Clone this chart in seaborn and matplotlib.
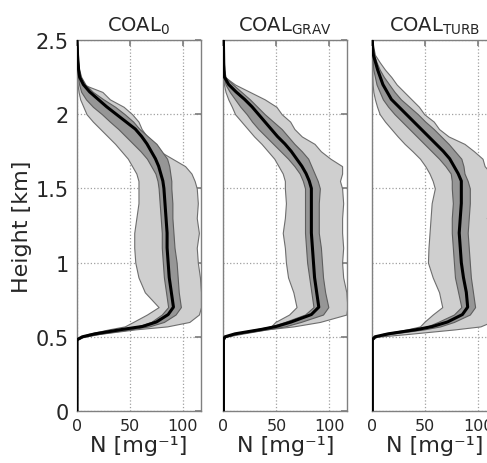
import pandas as pd
import seaborn as sns
import matplotlib.pyplot as plt

# shared height levels [km]
heights = [0.0, 0.48, 0.50, 0.52, 0.55, 0.57, 0.60, 0.65, 0.70, 0.80, 0.90, 1.0,
           1.1, 1.2, 1.3, 1.4, 1.5, 1.55, 1.6, 1.65, 1.7, 1.75, 1.8, 1.85, 1.9,
           1.95, 2.0, 2.05, 2.1, 2.15, 2.2, 2.25, 2.3, 2.35, 2.4, 2.45, 2.5]

panel_titles = ["COAL$_\\mathregular{0}$", "COAL$_\\mathregular{GRAV}$", "COAL$_\\mathregular{TURB}$"]

# COAL_0
mean_0 = [0, 0, 5, 17, 43, 62, 75, 86, 91, 89, 87, 86, 85, 85, 84, 83, 82, 81, 79, 77,
          74, 70, 66, 61, 55, 46, 37, 28, 20, 12, 6, 2.5, 1.5, 1, 0.5, 0.3, 0]
q25_0 = [0, 0, 4, 14, 38, 57, 70, 80, 86, 84, 82, 81, 80, 80, 79, 78, 77, 76, 74, 70,
         66, 60, 53, 46, 39, 31, 23.5, 15, 8.5, 4, 2, 1, 0.5, 0.3, 0, 0, 0]
q75_0 = [0, 0, 6, 21, 50, 68, 82, 93, 98, 96, 95, 94, 92, 91, 90, 90, 89, 89, 88, 87,
         85, 80, 75, 67, 59, 53, 45, 36, 25, 15, 8, 4, 2, 1, 0.5, 0.2, 0]
min_0 = [0, 0, 3, 11, 30, 45, 53, 66, 77, 64, 58, 55, 54, 54, 56, 58, 58, 58, 56, 52,
         48, 42, 36, 29, 22, 15, 9, 6, 3, 1.5, 0.5, 0, 0, 0, 0, 0, 0]
max_0 = [0, 0, 6, 22, 55, 85, 106, 115, 117, 117, 116, 114, 113, 115, 113, 114, 113, 111,
         108, 102, 90, 78, 70, 66, 61, 58, 52, 44, 31, 24, 6, 3, 1.5, 1, 0.5, 0.3, 0]

# COAL_GRAV
mean_g = [0, 0, 1.5, 11, 36, 50, 64, 83, 90, 88, 86, 85, 84, 83, 83, 83, 83, 81, 78, 74,
          69, 64, 58, 51, 45, 39, 33, 27, 20, 12, 5, 1, 0.5, 0.3, 0.2, 0.1, 0]
q25_g = [0, 0, 1, 9, 33, 45, 58, 77, 85, 83, 81, 79, 78, 77, 77, 77, 77, 75, 72, 67,
         61, 54, 47, 40, 33, 27, 22, 16, 11, 6, 2, 0.5, 0, 0, 0, 0, 0]
q75_g = [0, 0, 2, 13, 41, 58, 73, 94, 99, 96, 94, 93, 92, 90, 90, 90, 91, 89, 86, 83,
         80, 74, 67, 61, 55, 47, 39, 32, 25, 17, 9, 2, 0.8, 0.4, 0.2, 0.1, 0]
min_g = [0, 0, 1, 8, 30, 45, 49, 62, 69, 66, 61, 59, 58, 56, 58, 59, 58, 58, 56, 52,
         48, 42, 36, 29, 23, 17, 11, 8, 4.6, 2, 0.5, 0, 0, 0, 0, 0, 0]
max_g = [0, 0, 2, 17, 41, 66, 91, 116, 117, 116, 113, 112, 113, 112, 112, 113, 112, 110,
         112, 112, 101, 92, 86, 74, 67, 63, 55, 50, 39, 25, 11, 1.5, 0.8, 0.4, 0.2, 0.1, 0]

# COAL_TURB
mean_t = [0, 0, 2.5, 15, 43, 57, 71, 85, 90, 88.7, 86, 84, 83, 82, 83, 84, 84, 84, 81, 77,
          73, 67, 60, 53, 46, 39, 32, 25, 18, 14, 10, 7.5, 5, 3, 1, 0.3, 0]
q25_t = [0, 0, 2, 12, 40, 52, 62, 77, 84, 81, 78, 77, 76, 75, 75, 76, 75, 75, 74, 69,
         63, 56, 49, 42, 35, 28, 21, 15, 10, 7, 4, 2.5, 1, 0.5, 0.2, 0, 0]
q75_t = [0, 0, 3, 18, 49, 64, 77, 92, 97, 95, 93, 92, 91, 90, 91, 92, 92, 90, 87, 86,
         84, 78, 72, 65, 58, 50, 43, 35, 27, 21, 16, 11, 7, 4, 1.5, 0.5, 0]
min_t = [0, 0, 1.5, 10, 33, 45, 49, 57, 66, 63, 57, 52.5, 53, 54, 55, 56, 59, 57, 54, 50,
         45, 38, 30.5, 24, 18, 12, 7, 4.5, 2.5, 1, 0.3, 0, 0, 0, 0, 0, 0]
max_t = [0, 0, 4, 35, 78, 102, 112, 116, 117, 117, 116, 116, 116, 116, 108, 116, 116, 115,
         112, 106, 104, 96, 87, 72, 63, 58, 49, 44, 37, 30, 23, 18, 12, 7, 2.5, 1, 0]

panels = [
    (mean_0, q25_0, q75_0, min_0, max_0),
    (mean_g, q25_g, q75_g, min_g, max_g),
    (mean_t, q25_t, q75_t, min_t, max_t),
]

sns.set_theme(style="white")
plt.rcParams['font.family'] = ['DejaVu Sans']

fig = plt.figure(figsize=(4.87, 4.64), dpi=100)
lefts = [77 / 487, 223.4 / 487, 372.3 / 487]

for i, (mean, q25, q75, lo, hi) in enumerate(panels):
    ax = fig.add_axes([lefts[i], 52 / 464, 124 / 487, 371 / 464])
    df = pd.DataFrame({"z": heights, "N": mean, "q25": q25, "q75": q75, "lo": lo, "hi": hi})

    ax.fill_betweenx(df["z"], df["lo"], df["hi"], facecolor="#cfcfcf",
                     edgecolor="#6e6e6e", linewidth=0.8, zorder=2)
    ax.fill_betweenx(df["z"], df["q25"], df["q75"], facecolor="#969696",
                     edgecolor="#5e5e5e", linewidth=0.8, zorder=3)
    sns.lineplot(data=df, x="N", y="z", orient="y", sort=False, estimator=None,
                 color="black", linewidth=2.2, ax=ax, zorder=4)

    ax.set_xlim(0, 117)
    ax.set_ylim(0, 2.5)
    ax.set_xticks([0, 50, 100])
    ax.set_yticks([0, 0.5, 1, 1.5, 2, 2.5])
    ax.grid(True, ls=":", color="#a0a0a0", lw=0.9, zorder=1)
    ax.set_axisbelow(True)
    for sp in ax.spines.values():
        sp.set_color("#808080")
        sp.set_linewidth(1.0)
    ax.tick_params(direction="in", length=4, color="#808080", top=True, right=True)
    ax.tick_params(axis="x", labelsize=11.5, pad=5)
    ax.tick_params(axis="y", labelsize=15, pad=6)

    ax.set_title(panel_titles[i], fontsize=14, pad=7)
    ax.set_xlabel("N [mg⁻¹]", fontsize=16)
    ax.xaxis.set_label_coords(0.5, -0.066)
    if i == 0:
        ax.set_yticklabels(["0", "0.5", "1", "1.5", "2", "2.5"])
        ax.set_ylabel("Height [km]", fontsize=16)
        ax.yaxis.set_label_coords(-0.36, 0.5)
    else:
        ax.set_ylabel("")
        ax.set_yticklabels([])

fig.savefig("out.png", dpi=100)
